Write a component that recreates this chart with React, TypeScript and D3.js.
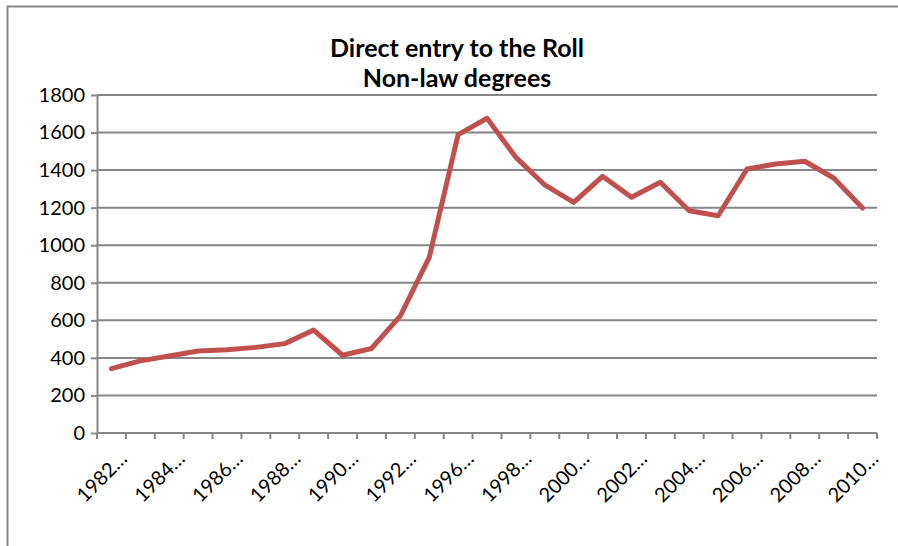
import React, { useRef, useEffect } from 'react';
import * as d3 from 'd3';

// academic years on the category axis (one label shown every two)
const categories = [
  '1982-83', '1983-84', '1984-85', '1985-86', '1986-87', '1987-88', '1988-89',
  '1989-90', '1990-91', '1991-92', '1992-93', '1993-96', '1996-97', '1997-98',
  '1998-99', '1999-00', '2000-01', '2001-02', '2002-03', '2003-04', '2004-05',
  '2005-06', '2006-07', '2007-08', '2008-09', '2009-10', '2010-11',
];

const entrants = [
  343, 384, 410, 437, 443, 456, 476, 548, 414, 450, 624, 935, 1589, 1676,
  1468, 1321, 1228, 1367, 1255, 1335, 1184, 1157, 1406, 1433, 1447, 1358, 1198,
];

const yTicks = [0, 200, 400, 600, 800, 1000, 1200, 1400, 1600, 1800];

const titleLines = ['Direct entry to the Roll', 'Non-law degrees'];

const App: React.FC = () => {
  const svgRef = useRef<SVGSVGElement | null>(null);

  useEffect(() => {
    if (!svgRef.current) return;
    const svg = d3.select(svgRef.current);
    svg.selectAll('*').remove();

    const width = 898;
    const height = 546;
    const margin = { top: 95, right: 21, bottom: 113, left: 97 };
    const innerWidth = width - margin.left - margin.right;
    const innerHeight = height - margin.top - margin.bottom;
    const axisColor = '#868686';
    const font = 'Lato, "Open Sans", sans-serif';

    // chart frame
    svg.append('rect')
      .attr('x', 7.5).attr('y', 6.5)
      .attr('width', width + 10).attr('height', height + 10)
      .attr('fill', '#fff')
      .attr('stroke', axisColor)
      .attr('stroke-width', 2);

    const title = svg.append('text')
      .attr('text-anchor', 'middle')
      .attr('font-family', font)
      .attr('font-weight', 'bold')
      .attr('font-size', 25)
      .attr('fill', '#000');
    titleLines.forEach((t, i) => {
      title.append('tspan')
        .attr('x', 457)
        .attr('y', 57 + i * 30)
        .text(t);
    });

    const x = d3.scaleBand<string>()
      .domain(categories)
      .range([0, innerWidth]);

    const y = d3.scaleLinear()
      .domain([0, 1800])
      .range([innerHeight, 0]);

    const g = svg.append('g')
      .attr('transform', `translate(${margin.left},${margin.top})`);

    // gridlines
    g.append('g')
      .selectAll('line')
      .data(yTicks.filter(d => d > 0))
      .join('line')
      .attr('x1', 0).attr('x2', innerWidth)
      .attr('y1', d => y(d)).attr('y2', d => y(d))
      .attr('stroke', axisColor)
      .attr('stroke-width', 2);

    // y-axis
    const yAxis = g.append('g')
      .call(d3.axisLeft(y).tickValues(yTicks).tickFormat(d3.format('d'))
        .tickSize(6).tickPadding(6).tickSizeOuter(0));
    yAxis.select('.domain').attr('stroke', axisColor).attr('stroke-width', 2);
    yAxis.selectAll('line').attr('stroke', axisColor).attr('stroke-width', 2);
    yAxis.selectAll('text')
      .attr('font-family', font)
      .attr('font-size', 20)
      .attr('fill', '#000');

    // x-axis: ticks at category boundaries
    const xAxisG = g.append('g')
      .attr('transform', `translate(0,${innerHeight})`);
    xAxisG.append('line')
      .attr('x1', 0).attr('x2', innerWidth)
      .attr('stroke', axisColor)
      .attr('stroke-width', 2);
    const boundaries = d3.range(categories.length + 1).map(i => i * x.bandwidth());
    xAxisG.selectAll('line.tick')
      .data(boundaries)
      .join('line')
      .attr('class', 'tick')
      .attr('x1', d => d).attr('x2', d => d)
      .attr('y1', 0).attr('y2', 6)
      .attr('stroke', axisColor)
      .attr('stroke-width', 2);

    xAxisG.selectAll('text')
      .data(categories.filter((_, i) => i % 2 === 0))
      .join('text')
      .attr('transform', d => `translate(${(x(d) ?? 0) + x.bandwidth() / 2 + 17},${27}) rotate(-45)`)
      .attr('text-anchor', 'end')
      .attr('font-family', font)
      .attr('font-size', 20)
      .attr('fill', '#000')
      .text(d => d.slice(0, 4) + '\u2026');

    const line = d3.line<number>()
      .x((_, i) => (x(categories[i]) ?? 0) + x.bandwidth() / 2)
      .y(d => y(d));

    g.append('path')
      .datum(entrants)
      .attr('fill', 'none')
      .attr('stroke', '#c0504d')
      .attr('stroke-width', 5)
      .attr('stroke-linejoin', 'round')
      .attr('stroke-linecap', 'round')
      .attr('d', line);
  }, []);

  return (
    <div style={{ position: 'fixed', left: 0, top: 0 }}>
      <svg ref={svgRef} width={898} height={546} style={{ display: 'block' }} />
    </div>
  );
};

export default App;
